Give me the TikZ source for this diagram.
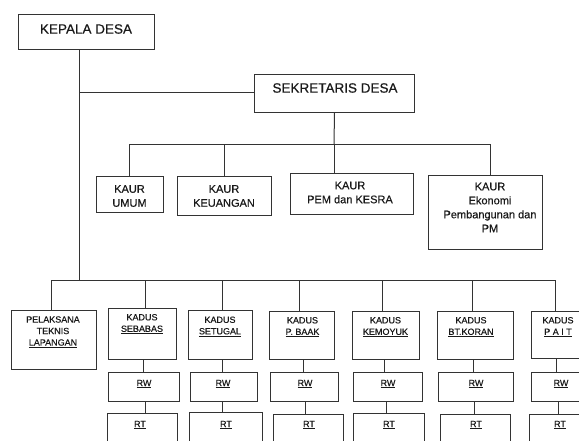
\documentclass[tikz,border=0pt]{standalone}
\usepackage{fontspec}
\setmainfont{Liberation Sans}[FakeBold=0.5]
\begin{document}
\begin{tikzpicture}[x=1pt,y=-1pt,
  box/.style={draw=black!80,line width=1pt,inner sep=0pt,anchor=north west},
  conn/.style={draw=black!80,line width=1pt},
  big/.style={font=\fontsize{13.5}{16}\selectfont,text=black!90,inner sep=0pt,align=center},
  mid/.style={font=\fontsize{11}{14}\selectfont,text=black!90,inner sep=0pt,align=center},
  sml/.style={font=\fontsize{9}{11.5}\selectfont,text=black!90,inner sep=0pt,align=center}]
\useasboundingbox (0,0) rectangle (579,440);
\clip (0,0) rectangle (579,440);
\newcommand\bx[5]{\node[box,minimum width={#4pt-#2pt},minimum height={#5pt-#3pt}] (#1) at (#2,#3) {};}
% boxes
\bx{kepala}{18}{14}{154}{49}
\bx{sek}{254}{74}{414}{112}
\bx{umum}{96}{176}{163}{212}
\bx{keu}{177}{176}{271}{215}
\bx{pem}{290}{173}{413}{214}
\bx{eko}{428}{175}{542}{249}
\bx{pel}{11}{310}{96}{369}
\bx{ka}{108}{308}{176}{359}
\bx{kb}{188}{310}{252}{359}
\bx{kc}{269}{311}{334}{359}
\bx{kd}{352}{311}{419}{359}
\bx{ke}{437}{311}{513}{359}
\bx{kf}{531}{311}{592}{358}
\bx{ra}{108}{372}{179}{401}
\bx{rb}{190}{372}{257}{401}
\bx{rc}{270}{372}{338}{401}
\bx{rd}{353}{372}{422}{401}
\bx{re}{438}{372}{513}{401}
\bx{rf}{531}{372}{592}{401}
\bx{ta}{107}{413}{177}{452}
\bx{tb}{189}{412}{262}{452}
\bx{tc}{273}{414}{343}{452}
\bx{td}{353}{413}{424}{452}
\bx{te}{440}{414}{510}{452}
\bx{tf}{529}{414}{592}{452}
% texts
\node[big] (kepalaT) at (86,29) {KEPALA DESA};
\node[big] (sekT) at (335,88) {SEKRETARIS DESA};
\node[mid] (umumT) at (129.5,196) {KAUR\\UMUM};
\node[mid] (keuT) at (224,196) {KAUR\\KEUANGAN};
\node[mid] (pemT) at (350,192.5) {KAUR\\PEM dan KESRA};
\node[mid] (ekoT) at (490,207.5) {KAUR\\Ekonomi\\Pembangunan dan\\PM};
\node[sml] (pelT) at (53,332) {PELAKSANA\\TEKNIS\\\underline{LAPANGAN}};
\node[sml] (kaT) at (142,324) {KADUS\\\underline{SEBABAS}};
\node[sml] (kbT) at (220,326.5) {KADUS\\\underline{SETUGAL}};
\node[sml] (kcT) at (302.5,327) {KADUS\\\underline{P. BAAK}};
\node[sml] (kdT) at (385.5,327) {KADUS\\\underline{KEMOYUK}};
\node[sml] (keT) at (471,327) {KADUS\\\underline{BT.KORAN}};
\node[sml] (kfT) at (558,327) {KADUS\\\underline{P A I T}};
\node[sml] (raT) at (144,384) {\underline{RW}};
\node[sml] (rbT) at (223,384) {\underline{RW}};
\node[sml] (rcT) at (305,384) {\underline{RW}};
\node[sml] (rdT) at (388,384) {\underline{RW}};
\node[sml] (reT) at (476,384) {\underline{RW}};
\node[sml] (rfT) at (561,384) {\underline{RW}};
\node[sml] (taT) at (140,425) {\underline{RT}};
\node[sml] (tbT) at (226,425) {\underline{RT}};
\node[sml] (tcT) at (309,425) {\underline{RT}};
\node[sml] (tdT) at (389,425) {\underline{RT}};
\node[sml] (teT) at (476,425) {\underline{RT}};
\node[sml] (tfT) at (560,425) {\underline{RT}};
% junctions
\coordinate (j1) at (79,92);
\coordinate (j2) at (79,280);
\coordinate (s1) at (129,144);
\coordinate (s2) at (224,144);
\coordinate (s3) at (334,144);
\coordinate (s4) at (490,144);
\coordinate (b1) at (51,280);
\coordinate (b2) at (145,280);
\coordinate (b3) at (222,280);
\coordinate (b4) at (299,280);
\coordinate (b5) at (382,280);
\coordinate (b6) at (472,280);
\coordinate (b7) at (555,280);
% connectors
\draw[conn] (j1 |- kepala.south) -- (j2);
\draw[conn] (j1) -- (sek.west |- j1);
\draw[conn] (sek.south) -- (s3);
\draw[conn] (s1) -- (s4);
\draw[conn] (s1) -- (s1 |- umum.north);
\draw[conn] (s2) -- (s2 |- keu.north);
\draw[conn] (s3) -- (s3 |- pem.north);
\draw[conn] (s4) -- (s4 |- eko.north);
\draw[conn] (b1) -- (b7);
\draw[conn] (b1) -- (b1 |- pel.north);
\draw[conn] (b2) -- (b2 |- ka.north);
\draw[conn] (b3) -- (b3 |- kb.north);
\draw[conn] (b4) -- (b4 |- kc.north);
\draw[conn] (b5) -- (b5 |- kd.north);
\draw[conn] (b6) -- (b6 |- ke.north);
\draw[conn] (b7) -- (b7 |- kf.north);
\draw[conn] (143,0 |- ka.south) -- (143,0 |- ra.north);
\draw[conn] (222,0 |- kb.south) -- (222,0 |- rb.north);
\draw[conn] (303,0 |- kc.south) -- (303,0 |- rc.north);
\draw[conn] (384,0 |- kd.south) -- (384,0 |- rd.north);
\draw[conn] (473,0 |- ke.south) -- (473,0 |- re.north);
\draw[conn] (556,0 |- kf.south) -- (556,0 |- rf.north);
\draw[conn] (145,0 |- ra.south) -- (145,0 |- ta.north);
\draw[conn] (222,0 |- rb.south) -- (222,0 |- tb.north);
\draw[conn] (305,0 |- rc.south) -- (305,0 |- tc.north);
\draw[conn] (386,0 |- rd.south) -- (386,0 |- td.north);
\draw[conn] (474,0 |- re.south) -- (474,0 |- te.north);
\draw[conn] (558,0 |- rf.south) -- (558,0 |- tf.north);
\end{tikzpicture}
\end{document}
